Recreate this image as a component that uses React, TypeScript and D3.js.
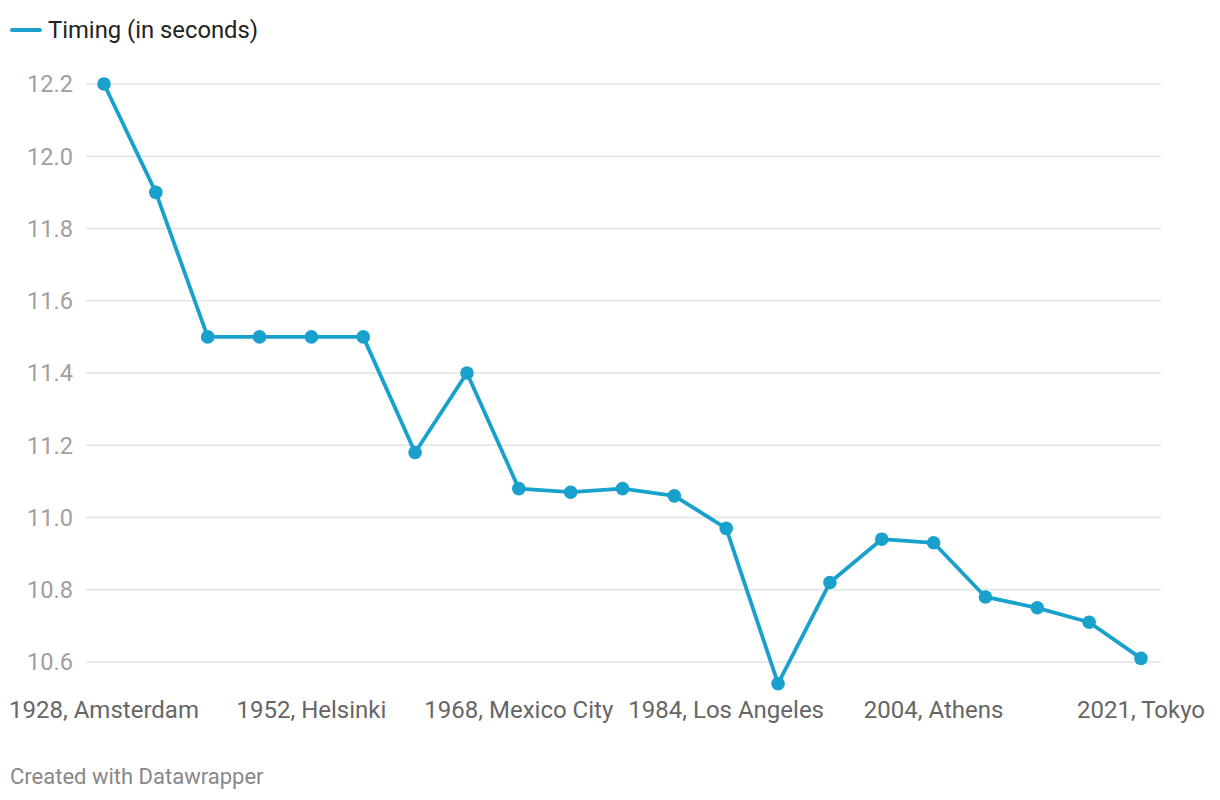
import React from "react";
import * as d3 from "d3";

const categories = [
  "1928, Amsterdam", "1932", "1936", "1948", "1952, Helsinki", "1956", "1960", "1964",
  "1968, Mexico City", "1972", "1976", "1980", "1984, Los Angeles", "1988", "1992", "1996",
  "2004, Athens", "2008", "2012", "2016", "2021, Tokyo",
];
const timing = [
  12.2, 11.9, 11.5, 11.5, 11.5, 11.5, 11.18, 11.4, 11.08, 11.07, 11.08, 11.06, 10.97,
  10.54, 10.82, 10.94, 10.93, 10.78, 10.75, 10.71, 10.61,
];
const xTickLabels = ["1928, Amsterdam", "1952, Helsinki", "1968, Mexico City", "1984, Los Angeles", "2004, Athens", "2021, Tokyo"];
const yTicks = [10.6, 10.8, 11.0, 11.2, 11.4, 11.6, 11.8, 12.0, 12.2];
const seriesName = "Timing (in seconds)";

const COLOR = "#18a1cd";
const FONT = "Roboto, 'Noto Sans', sans-serif";

export default function App() {
  const x = d3.scalePoint<string>().domain(categories).range([104, 1141]);
  const y = d3.scaleLinear().domain([10.6, 12.2]).range([662, 84]);
  const line = d3
    .line<number>()
    .x((_, i) => x(categories[i]) as number)
    .y((d) => y(d));

  return (
    <svg
      width={1220}
      height={800}
      style={{ position: "absolute", left: 0, top: 0, background: "#fff" }}
      fontFamily={FONT}
    >
      <line x1={12} x2={40} y1={30} y2={30} stroke={COLOR} strokeWidth={4} strokeLinecap="round" />
      <text x={48} y={30} dy="0.35em" fontSize={23.8} fill="#222">{seriesName}</text>

      {yTicks.map((t) => (
        <g key={t}>
          <line x1={86} x2={1161} y1={y(t)} y2={y(t)} stroke="#e3e3e3" strokeWidth={1.5} />
          <text x={73} y={y(t)} dy="0.35em" textAnchor="end" fontSize={23.6} fill="#a0a0a0">
            {t.toFixed(1)}
          </text>
        </g>
      ))}

      {xTickLabels.map((c) => (
        <text key={c} x={x(c)} y={710} dy="0.35em" textAnchor="middle" fontSize={24} fill="#666">
          {c}
        </text>
      ))}

      <path d={line(timing) || ""} fill="none" stroke={COLOR} strokeWidth={3.8} strokeLinejoin="round" />
      {timing.map((v, i) => (
        <circle key={i} cx={x(categories[i])} cy={y(v)} r={6.8} fill={COLOR} />
      ))}

      <text x={10} y={776} dy="0.35em" fontSize={22} fill="#888">Created with Datawrapper</text>
    </svg>
  );
}
